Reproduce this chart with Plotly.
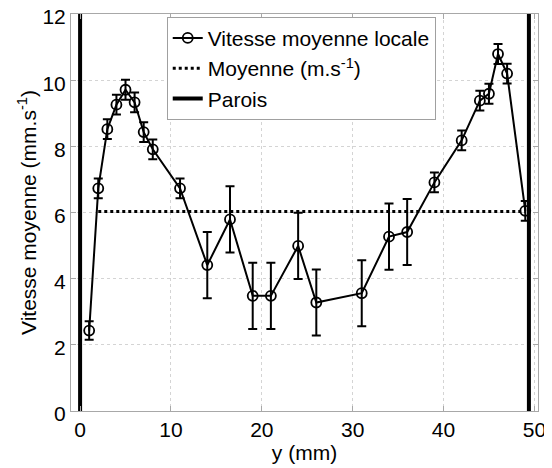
import plotly.graph_objects as go

# Data
positions = [1, 2, 3, 4, 5, 6, 7, 8, 11, 14, 16.5, 19, 21, 24, 26, 31, 34, 36, 39, 42, 44, 45, 46, 47, 49]
vitesse = [2.43, 6.73, 8.52, 9.26, 9.71, 9.33, 8.43, 7.91, 6.73, 4.41, 5.79, 3.48, 3.48, 4.99, 3.28,
           3.56, 5.27, 5.41, 6.91, 8.18, 9.38, 9.59, 10.79, 10.2, 6.05]
erreur = [0.28, 0.3, 0.3, 0.3, 0.3, 0.3, 0.3, 0.3, 0.3, 1.0, 1.0, 1.0, 1.0, 1.0, 1.0,
          1.0, 1.0, 1.0, 0.3, 0.3, 0.3, 0.3, 0.3, 0.3, 0.3]
moyenne_x = [2, 49]
moyenne_val = 6.03
parois_x = [0, 49.4]
x_ticks = [0, 10, 20, 30, 40, 50]
y_ticks = [0, 2, 4, 6, 8, 10, 12]

FONT = "Liberation Sans, Arial, sans-serif"
FS = 21

fig = go.Figure()

fig.add_trace(go.Scatter(
    x=positions, y=vitesse, mode="lines+markers",
    name="Vitesse moyenne locale",
    line=dict(color="black", width=2),
    marker=dict(symbol="circle-open", size=10, color="black", line=dict(width=1.8, color="black")),
    error_y=dict(type="data", array=erreur, visible=True, color="black", thickness=2, width=4.5),
))

fig.add_trace(go.Scatter(
    x=moyenne_x, y=[moyenne_val] * len(moyenne_x), mode="lines",
    name="Moyenne (m.s<sup>-1</sup>)",
    line=dict(color="black", width=3, dash="dot"),
))

wx, wy = [], []
for p in parois_x:
    wx += [p, p, None]
    wy += [0, 12, None]
fig.add_trace(go.Scatter(
    x=wx, y=wy, mode="lines", name="Parois",
    line=dict(color="black", width=4),
))

axis_common = dict(
    showline=True, mirror="ticks", linecolor="#a8a8a8", linewidth=1,
    ticks="inside", ticklen=5, tickcolor="#a8a8a8",
    showgrid=True, gridcolor="#d4d4d4", griddash="dot", gridwidth=1,
    zeroline=False, automargin=False, ticklabeloverflow="allow",
    tickfont=dict(family=FONT, size=FS, color="black"),
)

fig.update_xaxes(range=[-1, 50.4], tickvals=x_ticks, ticktext=[str(t) for t in x_ticks],
                 title=dict(text="y (mm)", font=dict(family=FONT, size=FS, color="black"), standoff=0),
                 **axis_common)
fig.update_yaxes(range=[0, 12], tickvals=y_ticks, ticktext=[str(t) for t in y_ticks],
                 ticklabelshift=3,
                 title=dict(text="Vitesse moyenne (mm.s<sup>-1</sup>)", font=dict(family=FONT, size=FS, color="black"), standoff=0),
                 **axis_common)

# page body adds an 8px offset; size the figure to fill the remaining window
fig.update_layout(
    width=544, height=460,
    margin=dict(l=63, r=14, t=6, b=57),
    plot_bgcolor="white", paper_bgcolor="white",
    font=dict(family=FONT, size=FS, color="black"),
    legend=dict(
        x=0.205, y=0.993, xanchor="left", yanchor="top",
        bgcolor="white", bordercolor="#a0a0a0", borderwidth=1,
        font=dict(family=FONT, size=FS, color="black"),
        itemwidth=30, tracegroupgap=0,
    ),
    showlegend=True,
)

fig.write_html("out.html")
